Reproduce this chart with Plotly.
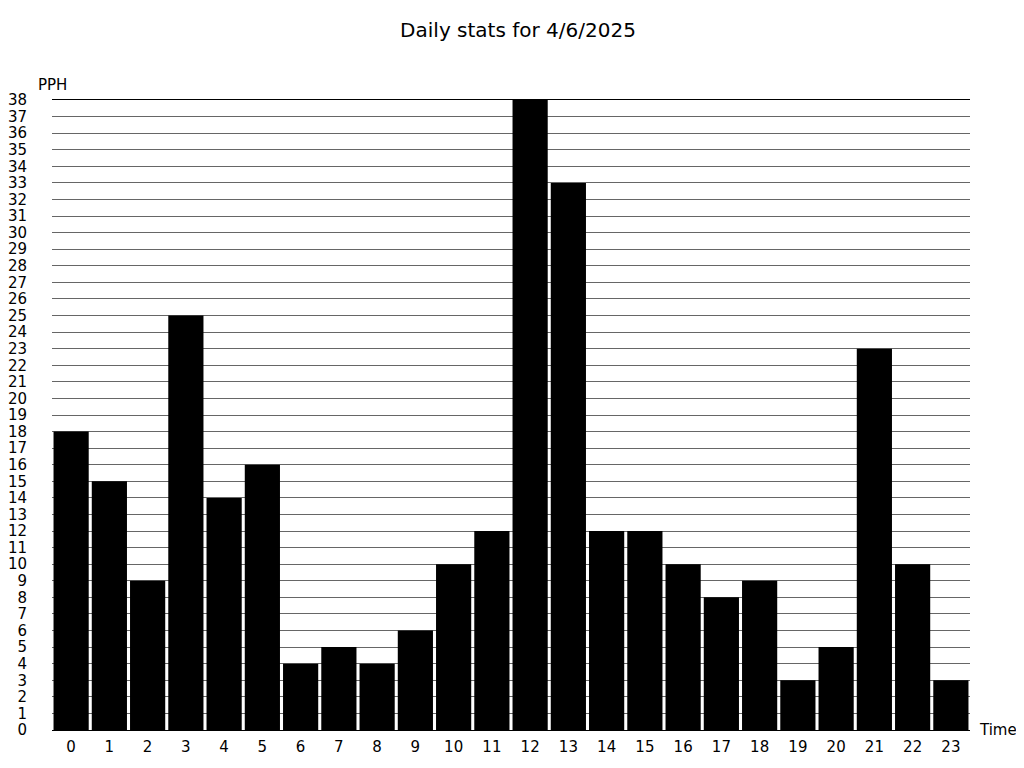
import plotly.graph_objects as go

hours = list(range(24))
hour_labels = [str(h) for h in hours]
pph = [18, 15, 9, 25, 14, 16, 4, 5, 4, 6, 10, 12, 38, 33, 12, 12, 10, 8, 9, 3, 5, 23, 10, 3]
y_ticks = list(range(0, 39))

fig = go.Figure(go.Bar(x=hours, y=pph, marker=dict(color="black", line=dict(width=0))))

font = "DejaVu Sans"
# page body adds an 8px offset, margins compensate for it
fig.update_layout(
    width=1024, height=768,
    margin=dict(l=44, r=62, t=92, b=46, autoexpand=False),
    paper_bgcolor="white", plot_bgcolor="white",
    bargap=0.08,
    showlegend=False,
    font=dict(family=font, size=15, color="black"),
    title=dict(text="Daily stats for 4/6/2025", x=(518 - 8) / 1024, xanchor="center",
               y=1 - 22 / 768, yanchor="middle", yref="container",
               font=dict(family=font, size=20, color="black")),
)
fig.update_xaxes(
    tickmode="array", tickvals=hours, ticktext=hour_labels,
    range=[-0.5, 23.5], showgrid=False, zeroline=False,
    showline=True, linecolor="black", linewidth=1, mirror=True,
    ticks="outside", ticklen=3, tickcolor="rgba(0,0,0,0)",
    tickfont=dict(family=font, size=15), automargin=False,
)
fig.update_yaxes(
    tickmode="array", tickvals=y_ticks, ticktext=[str(v) for v in y_ticks],
    range=[0, 38], showgrid=True, gridcolor="#666666", gridwidth=1,
    zeroline=False, showline=False,
    ticks="outside", ticklen=21, tickcolor="rgba(0,0,0,0)",
    tickfont=dict(family=font, size=15), automargin=False,
)
fig.add_annotation(text="PPH", xref="paper", yref="paper", x=0.0, y=1.0, yshift=15,
                   xanchor="center", yanchor="middle", showarrow=False,
                   font=dict(family=font, size=15, color="black"))
fig.add_annotation(text="Time", xref="paper", yref="paper", x=1.0, y=0.0, xshift=7,
                   xanchor="left", yanchor="middle", showarrow=False,
                   font=dict(family=font, size=15, color="black"))
fig.write_html("out.html")
